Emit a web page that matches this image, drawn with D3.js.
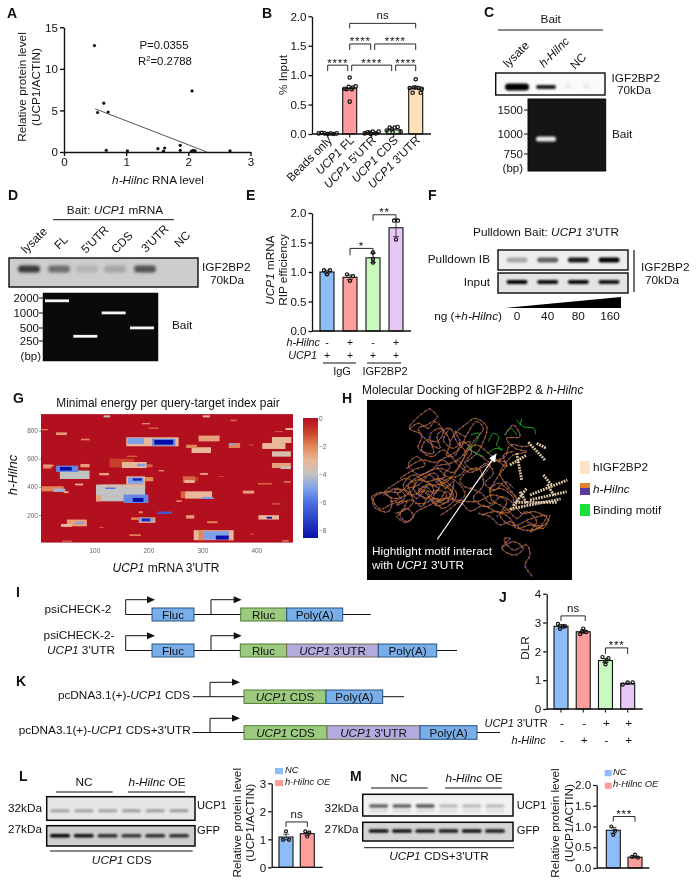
<!DOCTYPE html>
<html><head><meta charset="utf-8">
<script src="https://cdn.jsdelivr.net/npm/d3@7"></script>
<style>
html,body{margin:0;padding:0;background:#fff}
svg{display:block;filter:blur(0.3px)}
text{font-family:"Liberation Sans",Arial,sans-serif;fill:#111}
</style></head><body>
<svg id="fig" width="696" height="882" viewBox="0 0 696 882"></svg>
<script>
// ---------- DATA ----------
const scatterX=[0.49,0.64,0.54,0.71,0.68,1.02,1.51,1.62,1.6,1.87,1.87,2.06,2.05,2.08,2.11,2.67];
const scatterY=[12.8,5.87,4.75,4.8,0.2,0.15,0.4,0.48,0.1,0.8,0.2,7.35,0.1,0.2,0.15,0.15];
const scatterFit=[[0.5,5.2],[2.3,0]];

const bCats=["Beads only","*UCP1* FL","*UCP1* 5'UTR","*UCP1* CDS","*UCP1* 3'UTR"];
const bValues=[0.01,0.78,0.02,0.07,0.78];
const bPoints=[
 [[-9,.01],[-6,.02],[-3,.01],[0,.0],[3,.01],[6,.0],[9,.01]],
 [[0,.96],[0,.55],[-3,.76],[-1,.80],[3,.79],[6,.81],[-5,.77],[2,.76]],
 [[-7,.01],[-4,.03],[-1,.0],[1,.04],[4,.01],[7,.04],[-2,.02]],
 [[-7,.06],[-4,.11],[-1,.03],[1,.11],[4,.12],[7,.04],[-2,.08]],
 [[0,.93],[-3,.7],[5,.7],[0,.79],[-6,.78],[-2,.79],[3,.78],[6,.77]]];
const bColors=["#ffffff","#ff9a9e","#d9e8fb","#cfeccd","#ffe0b8"];
const bBrackets=[[1,4,0,0,1.88,"ns"],[1,2,0,-1,1.53,"****"],[2,4,3,0,1.53,"****"],
 [0,1,0,-2,1.17,"****"],[1,3,2,-2,1.17,"****"],[3,4,2,0,1.17,"****"]];

const eValues=[1.0,0.91,1.24,1.75];
const eErr=[0.03,0.04,0.08,0.15];
const ePoints=[[[-3,1.03],[0,.96],[3,1.03]],[[-3,.96],[0,.85],[3,.93]],[[0,1.33],[0,1.22],[0,1.16]],[[-2,1.87],[2,1.87],[0,1.55]]];
const fourColors=["#8dbcf8","#ff9c9c","#c8fac0","#e8c6f6"];
const eHilnc=["-","+","-","+"];
const eUcp=["+","+","+","+"];

const jValues=[2.87,2.68,1.68,0.88];
const jErr=[0.06,0.06,0.07,0.02];
const jPoints=[[[-3,2.95],[-1,2.78],[2,2.86],[4,2.87]],[[-3,2.6],[0,2.79],[3,2.67],[-1,2.7]],[[-3,1.8],[3,1.76],[0,1.55],[0,1.65]],[[-5,.85],[0,.92],[5,.92]]];
const jUtr=["-","-","+","+"];
const jHilnc=["-","+","-","+"];

const lValues=[1.08,1.2];
const lPoints=[[[0,1.28],[-3,.98],[3,.98]],[[-2,1.28],[2,1.25],[0,1.1]]];
const mValues=[0.91,0.26];
const mPoints=[[[-2,1.0],[2,.9],[0,.8]],[[-3,.27],[0,.32],[3,.25]]];
const pairColors=["#8dbcf8","#ff9c9c"];
const pairNames=["NC","h-Hilnc OE"];

const blotC=[1,0.8,0.08,0.08];
const gelD=[[0,1750],[1,320],[2,1000],[3,500]];
const blotD=[0.85,0.55,0.14,0.22,0.7,0];
const blotF1=[0.3,0.6,0.9,1];
const blotF2=[1,0.95,0.97,0.92];
const fDoses=["0","40","80","160"];
const blotL1=[0.3,0.3,0.3,0.32,0.32,0.34];
const blotL2=[1,0.95,0.8,0.75,0.8,0.8];
const blotM1=[0.6,0.6,0.65,0.22,0.22,0.22];
const blotM2=[0.95,0.95,0.9,0.9,0.95,0.9];

// energy patches [xStart,xEnd,yStart,yEnd,energy]
const heatPatches=[
[284,358,20,91,-3],[293,302,20,88,-2],[302,349,24,84,-5],[325,349,24,53,-8.5],[349,358,18,30,-2.5],
[103,194,297,416,-4],[103,113,297,340,-2.5],[154,200,285,345,-5.5],[171,191,293,321,-8.5],[120,139,385,409,-6],[113,194,395,416,-3.6],
[159,194,416,475,-3],[162,191,423,468,-5],[171,188,444,461,-8],[194,209,440,470,-2],
[36,91,456,516,-4],[29,70,506,551,-5.5],[36,58,516,542,-8.5],[74,91,539,563,-2.5],[5,20,530,558,-2],
[128,173,539,601,-1],[151,197,534,577,-3],[179,194,546,565,-5],[197,208,540,560,-1.5],
[159,256,689,753,-3],[161,192,705,748,-5],[207,250,693,743,-5.5],[211,246,701,734,-8.5],
[2,43,368,404,-2],[24,46,364,387,-4.5],[43,52,355,370,-2.5],
[268,318,316,368,-3],[260,268,320,368,-1.5],[299,321,314,328,-5],
[293,332,724,765,-2.5],[280,316,641,682,-3],[270,290,677,700,-2],
[411,454,670,712,-3],[429,465,712,755,-3],[429,464,615,653,-3.5],[429,464,534,570,-2.5],[445,464,527,545,-4],
[349,370,677,712,-2],[349,362,700,710,-5],
[49,86,119,167,-2.5],[38,58,115,136,-3],[64,80,136,150,-5],
[182,213,143,183,-2.5],[184,208,150,179,-5],[188,203,155,174,-8],[168,184,165,182,-2],
[404,442,167,198,-3],[419,429,174,186,-8.5],
[216,244,207,224,-6.5],
[264,287,428,475,-1.5],[267,285,428,448,-3],[287,292,440,470,-1],
[117,129,895,909,-4],[2,14,803,812,-2],[29,49,769,788,-2.5],[75,91,731,743,-2],[188,203,845,855,-2],
[200,219,813,823,-1.5],[301,314,895,909,-3],[352,364,867,879,-1.5],[454,468,805,819,-3],[435,448,790,797,-1.5],
[386,395,695,702,-1.5],[5,24,544,558,-2.5],[109,127,482,499,-2.5],[64,79,411,423,-3],[160,179,613,622,-1.5],
[219,229,510,520,-2],[296,310,485,499,-2.5],[403,429,416,428,-1.5],[451,464,430,440,-2],[375,396,352,373,-2.5],
[252,262,292,304,-2],[429,445,274,283,-1.5],[182,190,212,226,-2],[270,285,174,198,-2.5],[309,328,141,155,-2],
[165,186,50,62,-2],[40,58,8,17,-1.5],[448,460,10,20,-2],[109,117,108,115,-1.5],[389,395,60,67,-1.5],[330,340,470,475,-1.5]];
const heatX=[100,200,300,400];
const heatY=[200,400,600,800];
const energyStops=[0,-1,-2,-3,-4,-5,-6,-8.5];
const energyColors=["#b20f1f","#c9402c","#e2865a","#e9b899","#c2c2c2","#7f9fe9","#4c6fe2","#0510a8"];
const energyTicks=[0,-2,-4,-6,-8];

// illustrative strand traces of the docking render
const rnaStrands=[
[[240,70],[205,95],[178,130],[215,150],[205,190],[250,205],[240,150],[270,130],[300,170],[290,212],[330,190],[350,150],[380,110],[400,130],[370,170],[340,222],[310,262],[270,250],[230,262],[180,292],[150,322],[110,320],[70,340],[90,372],[130,355],[170,350],[150,392],[175,410],[200,380],[240,360],[280,340],[320,345],[380,350],[430,330],[470,350],[450,392],[490,422],[540,402],[590,392],[570,422],[530,410]],
[[240,72],[262,95],[230,120],[205,130],[240,175],[270,190],[262,150],[300,130],[320,170],[345,200],[330,240],[290,290],[250,300],[210,285],[190,310],[230,340],[260,315],[290,330],[270,350],[220,320],[180,330],[160,300],[190,270],[230,290],[270,280],[300,300],[320,330],[280,370],[240,340]],
[[170,250],[215,225],[255,232],[300,215],[330,245],[360,262],[400,245],[440,228],[470,235],[440,280],[420,320],[450,310],[490,340],[480,380],[440,380],[400,362],[360,378],[330,352],[300,372],[270,392]],
[[130,300],[170,280],[195,300],[170,330],[130,340],[105,322],[130,300]],
[[65,335],[95,322],[125,345],[115,380],[75,368],[65,335]],
[[140,395],[170,370],[190,395],[165,412],[140,395]],
[[455,490],[490,470],[520,490],[495,510],[455,490],[480,460],[462,462],[490,495],[530,480],[540,510],[525,540],[548,575]],
[[395,390],[440,380],[480,400],[500,430],[540,420],[580,430],[600,390]],
[[465,150],[490,120],[510,155],[470,160],[495,190],[530,200],[490,210],[470,230],[450,265],[470,300],[510,350]],
[[350,190],[395,215],[420,240],[390,280],[360,310],[330,290],[350,260],[385,250],[400,300],[370,340],[410,365],[440,350]],
[[205,310],[250,320],[240,295],[200,340],[175,300],[215,280],[255,265],[285,310],[310,290],[295,345],[260,362],[230,325]],
[[300,170],[325,135],[345,120],[375,100],[410,125],[400,170],[380,205],[350,230]],
[[420,310],[445,295],[475,315],[500,345],[490,375],[450,360],[425,345],[420,310]],
[[330,180],[360,170],[335,215],[300,235],[262,245],[285,275],[250,285]],
[[100,330],[140,310],[165,335],[140,360],[185,345],[215,365],[235,335],[260,355],[290,320],[320,350],[345,330],[330,300],[300,280],[265,295],[240,270],[205,300],[170,310]],
[[150,280],[190,255],[225,240],[200,215],[175,240],[210,270],[250,250],[275,225],[300,245],[280,270],[320,275],[345,250],[320,225]],
[[200,330],[225,305],[255,325],[275,300],[305,325],[280,345],[250,340],[225,355],[195,355]],
[[180,130],[205,115],[235,130],[255,110],[280,140],[260,170],[230,165],[215,195],[245,215],[280,195],[310,215],[330,170],[315,140],[345,155]],
[[300,130],[280,165],[310,190],[340,170],[365,200],[345,235],[375,255],[410,235],[430,265],[405,295],[435,315],[465,290],[490,310]],
[[360,310],[395,325],[420,355],[455,335],[490,355],[515,385],[555,380],[595,405],[565,430],[520,435],[480,410],[450,420],[420,395],[385,385]],
[[440,395],[470,375],[500,400],[530,380],[560,410],[540,440],[580,420]],
[[350,200],[380,180],[410,200],[440,225],[470,245],[460,210],[490,200]],
[[420,230],[465,215],[480,180],[520,185],[545,180]],
[[225,340],[205,320],[230,300],[265,310],[250,335],[280,355],[310,335],[295,305],[260,285]],
[[120,350],[150,340],[135,315],[175,320],[190,350],[165,375],[135,385]]];
const greenStrands=[
[[362,150],[388,145],[375,175],[360,192],[402,215]],[[415,170],[430,145],[447,155],[440,180],[458,195],[438,190],[415,205]],
[[500,105],[520,125],[552,130],[556,148]],[[465,150],[482,130],[500,150]],[[515,100],[510,122]]];
const creamHelices=[
[[535,172],[585,225]],[[480,240],[530,210]],[[500,205],[515,285]],[[490,362],[530,310]],[[497,352],[620,352]],
[[540,330],[652,285]],[[592,298],[612,332]],[[480,372],[632,342]],[[540,345],[650,320]],[[510,320],[530,355]],[[560,175],[590,190]],[[580,270],[605,300]]];
const arrowH=[[262,463],[440,205]];

// ---------- HELPERS ----------
const svg=d3.select("#fig");
const FONT=11.8;
function rich(g,s,x,y,o={}){
  const t=g.append("text").attr("x",x).attr("y",y).attr("font-size",o.size||FONT)
    .attr("text-anchor",o.anchor||"start").style("fill",o.fill||"#111");
  if(o.weight)t.attr("font-weight",o.weight);
  if(o.ls)t.attr("letter-spacing",o.ls);
  if(o.rot!==undefined)t.attr("transform",`rotate(${o.rot},${x},${y})`);
  (o.raw?[s]:s.split("*")).forEach((p,i)=>{ if(p) t.append("tspan").text(p).style("font-style",(i%2||o.italic)?"italic":"normal"); });
  return t;
}
function panel(l,x,y){ svg.append("text").attr("x",x).attr("y",y).attr("font-size",14).attr("font-weight","bold").text(l); }
function hline(g,x1,x2,y,w=1){ g.append("line").attr("x1",x1).attr("x2",x2).attr("y1",y).attr("y2",y).attr("stroke","#111").attr("stroke-width",w); }
function styleAxis(a,w=1.4){ a.selectAll("path,line").attr("stroke","#111").attr("stroke-width",w); a.selectAll("text").attr("font-size",11.6).style("fill","#111"); }
function bracket(g,xa,xb,yTop,drop,label,starred){
  g.append("path").attr("d",`M${xa},${yTop+drop}V${yTop}H${xb}V${yTop+drop}`).attr("fill","none").attr("stroke","#111").attr("stroke-width",0.9);
  const c=(xa+xb)/2;
  if(starred) rich(g,label,c,yTop+1.5,{anchor:"middle",size:11.5,ls:0.8,raw:true});
  else rich(g,label,c,yTop-4,{anchor:"middle",size:11.5,raw:true});
}
function barChart(o){
  const g=svg.append("g");
  const y=d3.scaleLinear().domain([0,o.max]).range([o.y0,o.y1]);
  const x=d3.scalePoint().domain(d3.range(o.values.length)).range(o.centers);
  const ax=g.append("g").attr("transform",`translate(${o.ax},0)`)
    .call(d3.axisLeft(y).tickValues(o.ticks).tickFormat(o.fmt).tickSize(3.5).tickPadding(2).tickSizeOuter(0));
  styleAxis(ax,1.3);
  g.selectAll("rect.b").data(o.values).join("rect").attr("x",(d,i)=>x(i)-o.bw/2).attr("width",o.bw)
    .attr("y",d=>y(d)).attr("height",d=>o.y0-y(d)).attr("fill",(d,i)=>o.colors[i]).attr("stroke","#111").attr("stroke-width",1.1);
  if(o.err) o.err.forEach((e,i)=>{
    const c=x(i);
    g.append("path").attr("d",`M${c-3},${y(o.values[i]+e)}H${c+3}M${c},${y(o.values[i]+e)}V${y(o.values[i]-e)}M${c-3},${y(o.values[i]-e)}H${c+3}`)
      .attr("stroke","#222").attr("stroke-width",0.8).attr("fill","none");
  });
  o.points.forEach((ps,i)=>g.selectAll(null).data(ps).join("circle").attr("cx",p=>x(i)+p[0]).attr("cy",p=>y(p[1]))
    .attr("r",o.r||1.6).attr("fill","none").attr("stroke","#111").attr("stroke-width",1.2));
  hline(g,o.ax,o.xEnd,o.y0,1.3);
  if(o.xticks) o.values.forEach((d,i)=>g.append("line").attr("x1",x(i)).attr("x2",x(i)).attr("y1",o.y0).attr("y2",o.y0+3.5).attr("stroke","#111").attr("stroke-width",1.1));
  return {g,x,y};
}
const defs=svg.append("defs");
[["b1",0.9],["b2",1.5],["b3",2.2],["h1",0.25],["h2",0.5]].forEach(([id,s])=>defs.append("filter").attr("id",id).attr("x","-30%").attr("y","-80%").attr("width","160%").attr("height","260%").append("feGaussianBlur").attr("stdDeviation",s));
let clipN=0;
function blot(x,y,w,h,bg,frame=1.4){
  const id="c"+(clipN++);
  defs.append("clipPath").attr("id",id).append("rect").attr("x",x).attr("y",y).attr("width",w).attr("height",h);
  const g=svg.append("g");
  g.append("rect").attr("x",x).attr("y",y).attr("width",w).attr("height",h).attr("fill",bg);
  const inner=g.append("g").attr("clip-path",`url(#${id})`);
  return {inner,finish(){ g.append("rect").attr("x",x).attr("y",y).attr("width",w).attr("height",h).attr("fill","none").attr("stroke","#0a0a0a").attr("stroke-width",frame);} };
}
function bands(b,xs,vals,cy,w,h,f="b1",color="#000"){
  b.inner.selectAll(null).data(vals).join("rect").attr("x",(d,i)=>xs[i]-w/2).attr("y",cy-h/2).attr("width",w).attr("height",h).attr("rx",h/2)
    .attr("fill",color).attr("opacity",d=>d).attr("filter",`url(#${f})`);
}

// ---------- A ----------
panel("A",7,18);
{
 const g=svg.append("g");
 const x=d3.scaleLinear().domain([0,3]).range([64,250.5]);
 const y=d3.scaleLinear().domain([0,15]).range([152,27.3]);
 const ya=g.append("g").attr("transform","translate(64,0)").call(d3.axisLeft(y).tickValues([0,5,10,15]).tickFormat(d3.format("d")).tickSize(4).tickPadding(2).tickSizeOuter(0));
 const xa=g.append("g").attr("transform","translate(0,152)").call(d3.axisBottom(x).tickValues([0,1,2,3]).tickFormat(d3.format("d")).tickSize(4).tickPadding(2).tickSizeOuter(0));
 styleAxis(ya,1.4);styleAxis(xa,1.4);
 g.selectAll("circle").data(scatterX).join("circle").attr("cx",d=>x(d)).attr("cy",(d,i)=>y(scatterY[i])).attr("r",1.6).attr("fill","#111");
 g.append("path").attr("d",d3.line().x(d=>x(d[0])).y(d=>y(d[1]))(scatterFit)).attr("stroke","#555").attr("stroke-width",1).attr("fill","none");
 rich(g,"P=0.0355",164,49,{anchor:"middle",size:11.4});
 const r=rich(g,"R",165,65,{anchor:"middle",size:11.4});
 r.append("tspan").text("2").attr("dy",-4).attr("font-size",7.5);
 r.append("tspan").text("=0.2788").attr("dy",4);
 rich(g,"*h-Hilnc* RNA level",158,184,{anchor:"middle"});
 rich(g,"Relative protein level",26,87,{anchor:"middle",rot:-90});
 rich(g,"(UCP1/ACTIN)",40,87,{anchor:"middle",rot:-90});
}

// ---------- B ----------
panel("B",262,18);
{
 const c=barChart({values:bValues,max:2,y0:134,y1:16.3,ax:312,xEnd:431,centers:[327.7,415.7],bw:14,colors:bColors,ticks:[0,.5,1,1.5,2],fmt:d3.format(".1f"),points:bPoints,xticks:true,r:1.7});
 bBrackets.forEach(b=>bracket(c.g,c.x(b[0])+b[2],c.x(b[1])+b[3],c.y(b[4]),b[5]=="ns"?5:6,b[5],b[5]!="ns"));
 bCats.forEach((t,i)=>rich(c.g,t,c.x(i)+5,141,{anchor:"end",rot:-45,size:11.8}));
 rich(c.g,"% Input",287,75,{anchor:"middle",rot:-90});
}

// ---------- C ----------
panel("C",484,17);
{
 const g=svg.append("g");
 rich(g,"Bait",550.7,23,{anchor:"middle"});
 hline(g,498,603,30,1);
 [["lysate",508,68],["*h-Hilnc*",544,68],["NC",575,70]].forEach(d=>rich(g,d[0],d[1],d[2],{rot:-45}));
 const b=blot(495.7,73,109.3,22,"#fafafa");
 const lanes=[517,546,568,586];
 bands(b,lanes.slice(0,1),[1],87,24,7,"b1");
 bands(b,lanes.slice(1,2),[0.9],87,20,4,"b1");
 bands(b,lanes.slice(2),blotC.slice(2),86,5,5,"b2");
 b.finish();
 const gl=blot(528,99,77.7,72,"#151515",1);
 bands(gl,[546],[0.95],139,20,5,"b1","#f4f4f4");
 gl.finish();
 const py=d3.scaleLog().domain([750,1000,1500]).range([154,134,110]);
 [1500,1000,750].forEach(v=>{ rich(g,String(v),523,py(v)+4,{anchor:"end",size:11.5}); g.append("line").attr("x1",524).attr("x2",528).attr("y1",py(v)).attr("y2",py(v)).attr("stroke","#111"); });
 rich(g,"(bp)",523,172,{anchor:"end",size:11.5});
 rich(g,"IGF2BP2",611.5,82);rich(g,"70kDa",617,94);rich(g,"Bait",612,138);
}

// ---------- D ----------
panel("D",8,200);
{
 const g=svg.append("g");
 rich(g,"Bait: *UCP1* mRNA",115,214,{anchor:"middle"});
 hline(g,53,174,219.7,1);
 [["lysate",26,254],["FL",59,250],["5'UTR",86,254],["CDS",116,254],["3'UTR",146,253],["NC",179,248]].forEach(d=>rich(g,d[0],d[1],d[2],{rot:-45}));
 const b=blot(9,258,189,29,"#cdcdcd");
 bands(b,[29,59,87,115,145,175],blotD,269,22,7,"b2","#1a1a1a");
 b.finish();
 const gl=blot(43,293,115,68,"#0a0a0a",0.5);
 const lane=d3.scalePoint().domain([0,1,2,3]).range([57,142]);
 const py=d3.scaleLog().domain([250,500,1000,2000]).range([341,328,313,298]);
 gelD.forEach(d=>gl.inner.append("rect").attr("x",lane(d[0])-12).attr("width",24).attr("y",py(d[1])-1.5).attr("height",2.8).attr("fill","#f6f6f6").attr("filter","url(#h1)"));
 gl.finish();
 [2000,1000,500,250].forEach(v=>{ rich(g,String(v),39,py(v)+4,{anchor:"end",size:11.5}); g.append("line").attr("x1",39).attr("x2",43).attr("y1",py(v)).attr("y2",py(v)).attr("stroke","#111"); });
 rich(g,"(bp)",41,360,{anchor:"end",size:11.5});
 rich(g,"IGF2BP2",202,271);rich(g,"70kDa",210,284);rich(g,"Bait",172,329);
}

// ---------- E ----------
panel("E",246,200);
{
 const c=barChart({values:eValues,max:2,y0:331,y1:213,ax:312,xEnd:411,centers:[327,396],bw:14,colors:fourColors,ticks:[0,.5,1,1.5,2],fmt:d3.format(".1f"),points:ePoints,err:eErr,r:1.6});
 bracket(c.g,c.x(1),c.x(2),c.y(1.4),7,"*",true);
 bracket(c.g,c.x(2),c.x(3),c.y(1.97),6,"**",true);
 rich(c.g,"*UCP1* mRNA",274,270,{anchor:"middle",rot:-90});
 rich(c.g,"RIP efficiency",287,270,{anchor:"middle",rot:-90});
 rich(c.g,"*h-Hilnc*",320,346,{anchor:"end",size:10.8});
 rich(c.g,"*UCP1*",317,359,{anchor:"end",size:10.8});
 eHilnc.forEach((s,i)=>rich(c.g,s,c.x(i),345.5,{anchor:"middle",size:10.5}));
 eUcp.forEach((s,i)=>rich(c.g,s,c.x(i),358.5,{anchor:"middle",size:10.5}));
 hline(c.g,323,356,363,1);hline(c.g,367,401,363,1);
 rich(c.g,"IgG",342,375,{anchor:"middle",size:11});rich(c.g,"IGF2BP2",385,375,{anchor:"middle",size:11});
}

// ---------- F ----------
panel("F",428,200);
{
 const g=svg.append("g");
 rich(g,"Pulldown Bait: *UCP1* 3'UTR",546,236,{anchor:"middle"});
 const lane=d3.scalePoint().domain(fDoses).range([517,609]);
 const xs=fDoses.map(d=>lane(d));
 const b1=blot(498,250,130,20,"#eeeeee");
 bands(b1,xs,blotF1,260,21,5,"b1");b1.finish();
 const b2=blot(498,273,130,20,"#e4e4e4");
 bands(b2,xs,blotF2,282,21,4,"b1");b2.finish();
 g.append("line").attr("x1",634).attr("x2",634).attr("y1",250).attr("y2",292).attr("stroke","#111").attr("stroke-width",1.2);
 rich(g,"Pulldown IB",490,263,{anchor:"end"});
 rich(g,"Input",490,286,{anchor:"end"});
 rich(g,"IGF2BP2",641,271);rich(g,"70kDa",645,284);
 const tx=d3.scaleLinear().domain([0,160]).range([505,621]);
 g.append("path").attr("d",`M${tx(0)},308L${tx(160)},297V308Z`).attr("fill","#000");
 rich(g,"ng (+*h-Hilnc*)",502,320,{anchor:"end"});
 fDoses.forEach(d=>rich(g,d,lane(d)-(d=="160"?-1:0),320,{anchor:"middle"}));
}

// ---------- G ----------
panel("G",13,403);
{
 const g=svg.append("g");
 const x=d3.scaleLinear().domain([1,468]).range([41,293]);
 const y=d3.scaleLinear().domain([0,926]).range([543,413]);
 const color=d3.scaleLinear().domain(energyStops).range(energyColors);
 rich(g,"Minimal energy per query-target index pair",168,407,{anchor:"middle",size:11.9});
 g.append("rect").attr("x",x(1)).attr("y",y(918)).attr("width",x(468)-x(1)).attr("height",y(3)-y(918)).attr("fill",color(0));
 defs.append("clipPath").attr("id","heatClip").append("rect").attr("x",41).attr("y",413).attr("width",252).attr("height",129);
 g.append("g").attr("clip-path","url(#heatClip)").append("g").attr("filter","url(#h2)").selectAll("rect").data(heatPatches).join("rect")
  .attr("x",d=>x(d[0])).attr("width",d=>x(d[1])-x(d[0])).attr("y",d=>y(d[3])).attr("height",d=>y(d[2])-y(d[3])).attr("fill",d=>color(d[4]));
 const xa=g.append("g").attr("transform","translate(0,542)").call(d3.axisBottom(x).tickValues(heatX).tickSize(0).tickPadding(6).tickSizeOuter(0));
 const ya=g.append("g").attr("transform","translate(41,0)").call(d3.axisLeft(y).tickValues(heatY).tickSize(2).tickPadding(1).tickSizeOuter(0));
 [xa,ya].forEach(a=>{a.select("path").remove();a.selectAll("line").attr("stroke","#999");a.selectAll("text").attr("font-size",6.5).style("fill","#666");});
 // colour bar
 const cb=d3.scaleLinear().domain([0,-8]).range([419,531.3]);
 defs.append("linearGradient").attr("id","cbg").attr("x1",0).attr("x2",0).attr("y1",0).attr("y2",1).selectAll("stop").data(energyStops).join("stop")
  .attr("offset",d=>-d/8.5).attr("stop-color",d=>color(d));
 g.append("rect").attr("x",303).attr("y",418).attr("width",15).attr("height",120).attr("fill","url(#cbg)");
 energyTicks.forEach(v=>rich(g,v==0?"0":"\u2212"+(-v),319,cb(v)+2,{size:6.5,fill:"#666"}));
 rich(g,"*h-Hilnc*",17,475,{anchor:"middle",rot:-90,size:13});
 rich(g,"*UCP1* mRNA 3'UTR",166,572,{anchor:"middle",size:12});
}

// ---------- H ----------
panel("H",342,403);
{
 const g=svg.append("g");
 const hx=d3.scaleLinear().domain([0,1038]).range([350,696]);
 const hy=d3.scaleLinear().domain([0,600]).range([385,585]);
 rich(g,"Molecular Docking of hIGF2BP2 & *h-Hilnc*",362,394,{size:11.9});
 g.append("rect").attr("x",367).attr("y",400).attr("width",205).attr("height",180).attr("fill","#000");
 const ln=d3.line().x(d=>hx(d[0])).y(d=>hy(d[1])).curve(d3.curveCatmullRom.alpha(.5));
 g.selectAll("path.p").data(rnaStrands).join("path").attr("class","p").attr("d",ln).attr("fill","none").attr("stroke","#3f35a8").attr("stroke-width",2.2).attr("stroke-dasharray","1.2 3.8");
 g.selectAll("path.o").data(rnaStrands).join("path").attr("class","o").attr("d",ln).attr("fill","none").attr("stroke","#c9701f").attr("stroke-width",0.85);
 const sln=d3.line().x(d=>hx(d[0])).y(d=>hy(d[1]));
 g.selectAll("path.c").data(creamHelices).join("path").attr("class","c").attr("d",sln).attr("fill","none").attr("stroke","#dcc8a8").attr("stroke-width",2.8).attr("stroke-dasharray","1.8 1");
 g.selectAll("path.g").data(greenStrands).join("path").attr("class","g").attr("d",ln).attr("fill","none").attr("stroke","#1fb52f").attr("stroke-width",0.9);
 const [a,bq]=arrowH;
 const ang=Math.atan2(hy(bq[1])-hy(a[1]),hx(bq[0])-hx(a[0]));
 const tipx=hx(bq[0]),tipy=hy(bq[1]);
 g.append("line").attr("x1",hx(a[0])).attr("y1",hy(a[1])).attr("x2",tipx-5*Math.cos(ang)).attr("y2",tipy-5*Math.sin(ang)).attr("stroke","#fff").attr("stroke-width",1.1);
 g.append("path").attr("d",`M${tipx},${tipy}L${tipx-9*Math.cos(ang-.4)},${tipy-9*Math.sin(ang-.4)}L${tipx-9*Math.cos(ang+.4)},${tipy-9*Math.sin(ang+.4)}Z`).attr("fill","#fff");
 rich(g,"Hightlight motif interact",372,555,{fill:"#fff"});
 rich(g,"with *UCP1* 3'UTR",372,569,{fill:"#fff"});
 [[461,13,"#fbe3c4"],[483,5,"#e5812a"],[488,7,"#5d3a9e"],[504,12,"#16e03a"]].forEach(d=>g.append("rect").attr("x",580).attr("y",d[0]).attr("width",10).attr("height",d[1]).attr("fill",d[2]));
 rich(g,"hIGF2BP2",593,471);rich(g,"*h-Hilnc*",593,493);rich(g,"Binding motif",593,514);
}

// ---------- I / K constructs ----------
const ctBlue=["#79aee8","#24527f"],ctGreen=["#9ccb80","#4d7a30"],ctLav=["#b3aade","#7b6c52"];
function construct(lineY,xa,xb,promoters,top,boxes,h){
  const g=svg.append("g");
  hline(g,xa,xb,lineY,1);
  promoters.forEach(p=>{
    g.append("path").attr("d",`M${p[0]},${lineY}V${top}H${p[1]-6}`).attr("fill","none").attr("stroke","#111").attr("stroke-width",1);
    g.append("path").attr("d",`M${p[1]},${top}L${p[1]-8},${top-3.5}V${top+3.5}Z`).attr("fill","#111");
  });
  boxes.forEach(b=>{
    g.append("rect").attr("x",b[0]).attr("y",lineY-h[0]).attr("width",b[1]-b[0]).attr("height",h[0]+h[1]).attr("fill",b[3][0]).attr("stroke",b[3][1]).attr("stroke-width",1);
    rich(g,b[2],(b[0]+b[1])/2,lineY+4,{anchor:"middle",size:11.6});
  });
}
panel("I",16,597);
rich(svg,"psiCHECK-2",78,613,{anchor:"middle"});
construct(614.5,125.7,370.7,[[125.7,155],[211,241.7]],599.7,[[152,194,"Fluc",ctBlue],[240.7,286.7,"Rluc",ctGreen],[286.7,342.7,"Poly(A)",ctBlue]],[6.5,6.5]);
rich(svg,"psiCHECK-2-",79,639,{anchor:"middle"});
rich(svg,"*UCP1* 3'UTR",81,654,{anchor:"middle"});
construct(650.5,125.7,457,[[125.7,155],[211,241.7]],635.7,[[152,194,"Fluc",ctBlue],[240.3,286.7,"Rluc",ctGreen],[286.7,378.3,"*UCP1* 3'UTR",ctLav],[378.3,436.7,"Poly(A)",ctBlue]],[6.5,6.5]);
panel("K",16,686);
rich(svg,"pcDNA3.1(+)-*UCP1* CDS",190,699,{anchor:"end"});
construct(696.7,192.7,404,[[210,240]],682.3,[[244,326,"*UCP1* CDS",ctGreen],[326,382.7,"Poly(A)",ctBlue]],[6.7,6.7]);
rich(svg,"pcDNA3.1(+)-*UCP1* CDS+3'UTR",190.7,734,{anchor:"end"});
construct(732.5,192.7,500,[[210,240]],718.3,[[244,327,"*UCP1* CDS",ctGreen],[327,420,"*UCP1* 3'UTR",ctLav],[420,477,"Poly(A)",ctBlue]],[6.8,6.8]);

// ---------- J ----------
panel("J",499,602);
{
 const c=barChart({values:jValues,max:4,y0:709,y1:593.7,ax:546.7,xEnd:642.7,centers:[561,627.7],bw:14,colors:fourColors,ticks:[0,1,2,3,4],fmt:d3.format("d"),points:jPoints,err:jErr,xticks:true,r:1.6});
 bracket(c.g,c.x(0),c.x(1)+2,c.y(3.23),5,"ns",false);
 bracket(c.g,c.x(2),c.x(3),c.y(2.12),6,"***",true);
 rich(c.g,"DLR",529,648,{anchor:"middle",rot:-90});
 rich(c.g,"*UCP1* 3'UTR",547.7,727,{anchor:"end",size:11});
 rich(c.g,"*h-Hilnc*",545.7,744,{anchor:"end",size:11});
 jUtr.forEach((s,i)=>rich(c.g,s,c.x(i)+1,727,{anchor:"middle"}));
 jHilnc.forEach((s,i)=>rich(c.g,s,c.x(i)+1,744,{anchor:"middle"}));
}

// ---------- L / M ----------
function wbPanel(o){
 const g=svg.append("g");
 rich(g,"NC",o.ncC,o.headY,{anchor:"middle"});
 rich(g,"*h-Hilnc* OE",o.oeC,o.headY,{anchor:"middle"});
 hline(g,o.ncL[0],o.ncL[1],o.lineY,1);hline(g,o.oeL[0],o.oeL[1],o.lineY,1);
 const lane=d3.scalePoint().domain(d3.range(6)).range(o.lanes);
 const xs=d3.range(6).map(i=>lane(i));
 const a=blot(o.x,o.b1[0],o.w,o.b1[1],o.bg1,1.5);
 bands(a,xs,o.v1,o.by1,19,o.bh1,"b1");
 if(o.sub) bands(a,xs,o.sub,o.by1+5,19,2,"b1");
 a.finish();
 const b=blot(o.x,o.b2[0],o.w,o.b2[1],o.bg2,1.5);
 bands(b,xs,o.v2,o.by2,20,3.4,"b1");b.finish();
 rich(g,"32kDa",o.kd,o.k1,{anchor:"end"});
 rich(g,"27kDa",o.kd,o.k2,{anchor:"end"});
 rich(g,"UCP1",o.lab,o.k3,{size:11.2});rich(g,"GFP",o.lab,o.k4,{size:11.2});
 hline(g,o.foot[0],o.foot[1],o.foot[2],1);
 rich(g,o.title,o.tc,o.foot[3],{anchor:"middle"});
}
function legendPair(g,sx,sw,ys,tx,tys){
 pairNames.forEach((n,i)=>{
  g.append("rect").attr("x",sx).attr("y",ys[i]).attr("width",sw).attr("height",6.2).attr("fill",pairColors[i]);
  rich(g,n,tx,tys[i],{size:9.4,italic:true,raw:true});
 });
}
panel("L",19,781);
wbPanel({ncC:84,oeC:157,headY:786,ncL:[56,112.7],oeL:[128,185],lineY:792,x:46.7,w:148.3,b1:[796.7,23.6],b2:[825.7,20.3],bg1:"#e6e6e6",bg2:"#cfcfcf",
 lanes:[60,179],v1:blotL1,v2:blotL2,by1:810.7,by2:835.7,bh1:3,kd:42,k1:812,k2:833,lab:197,k3:809,k4:834,foot:[50,192.7,851,864],tc:121.7,title:"*UCP1* CDS"});
{
 const c=barChart({values:lValues,max:3,y0:867.3,y1:783.3,ax:271.7,xEnd:322.7,centers:[286,307.3],bw:14,colors:pairColors,ticks:[0,1,2,3],fmt:d3.format("d"),points:lPoints,err:[.1,.05],r:1.5});
 bracket(c.g,c.x(0),c.x(1),c.y(1.62),5,"ns",false);
 rich(c.g,"Relative protein level",241,822.7,{anchor:"middle",rot:-90});
 rich(c.g,"(UCP1/ACTIN)",254,822.7,{anchor:"middle",rot:-90});
 legendPair(c.g,275,8,[768,780],285,[773,784.5]);
}
panel("M",350,781);
wbPanel({ncC:399,oeC:474,headY:782,ncL:[371,427.7],oeL:[445,502],lineY:788,x:362.7,w:150.3,b1:[794.3,21.7],b2:[822.3,18.7],bg1:"#f2f2f2",bg2:"#d4d4d4",
 lanes:[378.7,495],v1:blotM1,v2:blotM2,sub:[.12,.12,.12,.1,.1,.1],by1:806,by2:831,bh1:3.5,kd:358.7,k1:811.7,k2:833,lab:516.7,k3:809,k4:834,foot:[364,514,847.7,860],tc:439,title:"*UCP1* CDS+3'UTR"});
{
 const c=barChart({values:mValues,max:2,y0:868,y1:785,ax:596.7,xEnd:649.3,centers:[613.3,635],bw:14,colors:pairColors,ticks:[0,.5,1,1.5,2],fmt:d3.format(".1f"),points:mPoints,err:[.07,.02],r:1.5});
 bracket(c.g,c.x(0),c.x(1),c.y(1.24),5,"***",true);
 rich(c.g,"Relative protein level",559,823,{anchor:"middle",rot:-90});
 rich(c.g,"(UCP1/ACTIN)",572.5,823,{anchor:"middle",rot:-90});
 legendPair(c.g,604.7,7,[770,782.7],613,[775,786.7]);
}
</script>
</body></html>
